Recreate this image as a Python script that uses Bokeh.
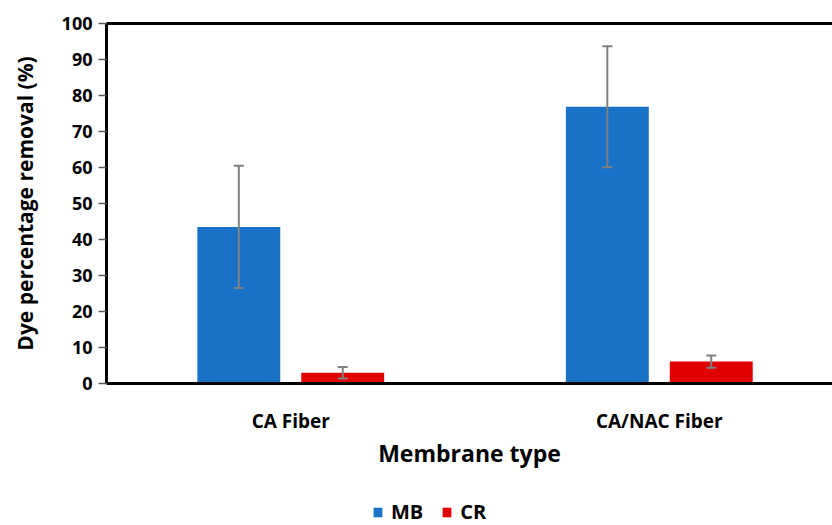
from bokeh.plotting import figure
from bokeh.layouts import column
from bokeh.models import (ColumnDataSource, Whisker, TeeHead, Legend, LegendItem,
                          Range1d, FixedTicker, LinearAxis)
from bokeh.embed import file_html
from bokeh.resources import INLINE

# ---- data ----
categories = ["CA Fiber", "CA/NAC Fiber"]
series = ["MB", "CR"]
mb_values = [43.5, 76.9]
mb_errors = [17.0, 16.8]
cr_values = [3.0, 6.1]
cr_errors = [1.6, 1.7]
y_ticks = [0, 10, 20, 30, 40, 50, 60, 70, 80, 90, 100]

# ---- style ----
FONT = "Open Sans"
MB_COLOR = "#1872C8"
CR_COLOR = "#E00000"
ERR_COLOR = "#808080"
BAR_W = 0.225
OFFSET = 0.141

centers = [i + 0.5 for i in range(len(categories))]

def make_source(values, errors, off):
    xs = [c + off for c in centers]
    return ColumnDataSource(dict(
        x=xs, top=values,
        upper=[v + e for v, e in zip(values, errors)],
        lower=[v - e for v, e in zip(values, errors)],
    ))

src_mb = make_source(mb_values, mb_errors, -OFFSET)
src_cr = make_source(cr_values, cr_errors, OFFSET)

p = figure(width=832, height=495,
           x_range=Range1d(0, 1.970), y_range=Range1d(0, 100),
           output_backend="svg", toolbar_location=None,
           min_border_left=106, min_border_right=0,
           min_border_top=23, min_border_bottom=112)
p.outline_line_color = None
p.xgrid.visible = False
p.ygrid.visible = False
p.background_fill_color = "white"

p.vbar(x="x", top="top", width=BAR_W, bottom=0, source=src_mb,
       fill_color=MB_COLOR, line_color=None)
p.vbar(x="x", top="top", width=BAR_W, bottom=0, source=src_cr,
       fill_color=CR_COLOR, line_color=None)

for src in (src_mb, src_cr):
    w = Whisker(source=src, base="x", upper="upper", lower="lower",
                line_color=ERR_COLOR, line_width=2, level="overlay",
                upper_head=TeeHead(size=10, line_color=ERR_COLOR, line_width=2),
                lower_head=TeeHead(size=10, line_color=ERR_COLOR, line_width=2))
    p.add_layout(w)

# y axis
ya = p.yaxis[0]
ya.ticker = FixedTicker(ticks=y_ticks)
ya.axis_line_width = 3
ya.axis_line_color = "black"
ya.major_tick_out = 8
ya.major_tick_in = 0
ya.major_tick_line_color = "#595959"
ya.major_tick_line_width = 1.5
ya.minor_tick_line_color = None
ya.major_label_standoff = 6
ya.major_label_text_font = FONT
ya.major_label_text_font_style = "bold"
ya.major_label_text_font_size = "18px"
ya.major_label_text_color = "black"
ya.axis_label = "Dye percentage removal (%)"
ya.axis_label_text_font = FONT
ya.axis_label_text_font_style = "bold"
ya.axis_label_text_font_size = "21px"
ya.axis_label_text_color = "black"
ya.axis_label_standoff = 20

# x axis
xa = p.xaxis[0]
xa.ticker = FixedTicker(ticks=centers)
xa.major_label_overrides = {c: name for c, name in zip(centers, categories)}
xa.axis_line_width = 3
xa.axis_line_color = "black"
xa.major_tick_out = 0
xa.major_tick_in = 0
xa.major_tick_line_color = None
xa.minor_tick_line_color = None
xa.major_label_standoff = 24
xa.major_label_text_font = FONT
xa.major_label_text_font_style = "bold"
xa.major_label_text_font_size = "19px"
xa.major_label_text_color = "black"
xa.axis_label = "Membrane type"
xa.axis_label_text_font = FONT
xa.axis_label_text_font_style = "bold"
xa.axis_label_text_font_size = "23px"
xa.axis_label_text_color = "black"
xa.axis_label_standoff = 0

# top frame line
top = LinearAxis(ticker=FixedTicker(ticks=[]), axis_line_width=3,
                 axis_line_color="black", major_tick_line_color=None,
                 minor_tick_line_color=None, major_label_text_font_size="0px")
p.add_layout(top, "above")

# ---- legend strip below the chart ----
lg = figure(width=832, height=30, output_backend="svg", toolbar_location=None,
            x_range=Range1d(0, 1), y_range=Range1d(0, 1),
            x_axis_type=None, y_axis_type=None, min_border=0)
lg.outline_line_color = None
lg.xgrid.visible = False
lg.ygrid.visible = False
swatches = {"MB": MB_COLOR, "CR": CR_COLOR}
items = []
for name in series:
    # zero-height placeholder outside the strip's range: only its legend swatch shows
    r = lg.vbar(x=[-5], top=[0], bottom=[0], width=0.1,
                fill_color=swatches[name], line_color=None)
    items.append(LegendItem(label=name, renderers=[r]))

legend = Legend(items=items, orientation="horizontal", location=(266, 0),
                border_line_color=None, background_fill_alpha=0,
                glyph_width=11, glyph_height=12, label_standoff=8,
                spacing=18, padding=0, margin=0,
                label_text_font=FONT, label_text_font_style="bold",
                label_text_font_size="20px", label_text_color="black")
lg.add_layout(legend, "center")

layout = column(p, lg, spacing=0)
open("out.html", "w").write(file_html(layout, INLINE))
